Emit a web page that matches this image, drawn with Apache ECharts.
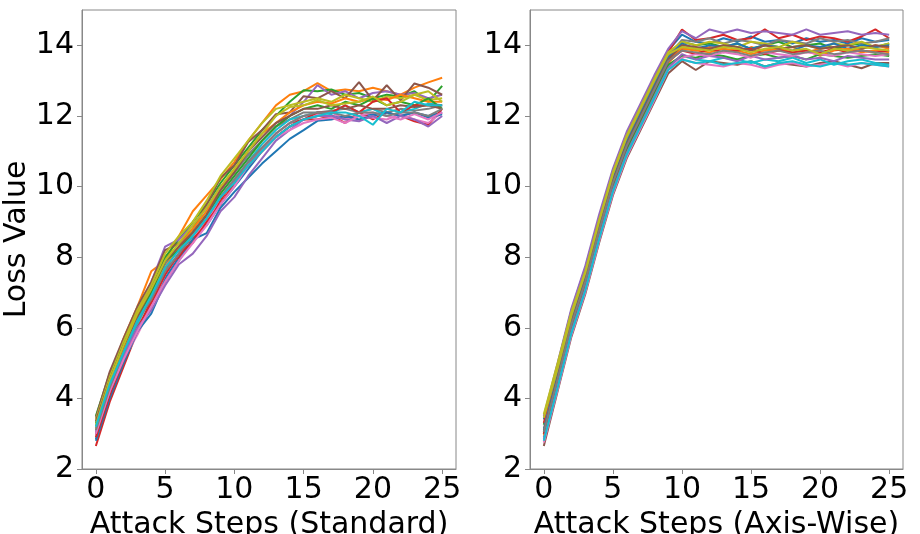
<!DOCTYPE html>
<html><head><meta charset="utf-8">
<script src="https://cdn.jsdelivr.net/npm/echarts@6/dist/echarts.min.js"></script>
<style>html,body{margin:0;padding:0;background:#fff}#c{width:920px;height:534px}</style>
</head><body><div id="c"></div>
<script>
const steps = [0,1,2,3,4,5,6,7,8,9,10,11,12,13,14,15,16,17,18,19,20,21,22,23,24,25];
const xTicks = [0,5,10,15,20,25];
const yTicks = [2,4,6,8,10,12,14];
const xNameLeft = "Attack Steps (Standard)";
const xNameRight = "Attack Steps (Axis-Wise)";
const yName = "Loss Value";
const palette = ['#1f77b4','#ff7f0e','#2ca02c','#d62728','#9467bd','#8c564b','#e377c2','#7f7f7f','#bcbd22','#17becf'];

const std00=[2.85,4.1,5.0,5.9,6.7,7.4,8.0,8.5,8.9,9.5,10.0,10.5,11.0,11.4,11.7,11.9,12.0,12.0,11.95,12.0,12.05,12.1,12.0,12.1,12.0,12.1];
const std01=[3.2,4.6,5.7,6.6,7.6,7.9,8.6,9.3,9.75,10.2,10.7,11.3,11.8,12.3,12.6,12.7,12.93,12.7,12.75,12.7,12.8,12.7,12.6,12.8,12.95,13.08];
const std02=[3.5,4.7,5.6,6.5,7.2,8.0,8.5,9.0,9.5,10.1,10.6,11.1,11.6,12.0,12.4,12.73,12.7,12.75,12.6,12.65,12.5,12.6,12.55,12.7,12.4,12.85];
const std03=[2.65,3.9,4.9,5.9,6.8,7.7,8.0,8.5,9.0,9.6,10.2,10.6,11.1,11.5,11.8,11.9,11.9,12.0,11.8,12.1,11.9,12.1,12.0,11.85,11.75,12.2];
const std04=[3.0,4.3,5.3,6.4,7.3,8.3,8.5,8.9,9.4,10.0,10.4,10.9,11.3,11.7,12.0,12.4,12.87,12.6,12.7,12.5,12.65,12.7,12.6,12.65,12.5,12.6];
const std05=[3.45,4.75,5.7,6.6,7.3,8.2,8.4,8.8,9.5,10.25,10.6,11.26,11.6,12.05,12.1,12.56,12.5,12.7,12.5,12.96,12.44,12.87,12.44,12.92,12.8,12.6];
const std06=[2.95,4.2,5.1,5.8,6.6,7.5,8.1,8.6,9.0,9.7,10.1,10.7,11.1,11.5,11.8,12.0,12.05,12.1,11.9,12.0,11.95,11.9,12.05,11.9,11.8,12.1];
const std07=[3.0,4.3,5.3,6.2,7.0,7.8,8.3,8.8,9.3,9.9,10.4,10.9,11.3,11.7,11.9,12.1,12.1,12.15,12.2,12.1,12.2,12.1,12.2,12.15,12.2,12.3];
const std08=[3.4,4.6,5.6,6.5,7.2,8.1,8.6,9.0,9.6,10.3,10.8,11.3,11.8,12.2,12.3,12.4,12.5,12.4,12.6,12.5,12.4,12.55,12.5,12.6,12.45,12.5];
const std09=[3.15,4.3,5.2,6.1,6.9,7.6,8.1,8.6,9.2,9.7,10.2,10.7,11.2,11.6,11.9,12.0,12.1,12.05,12.3,12.1,12.2,12.0,12.1,12.2,12.35,12.3];
const std10=[2.8,4.0,5.0,5.9,6.4,7.3,7.9,8.5,8.68,9.4,9.85,10.25,10.65,11.0,11.35,11.6,11.86,11.9,12.0,11.9,12.0,12.1,12.0,12.1,11.95,12.05];
const std11=[3.1,4.4,5.4,6.4,7.1,7.7,8.3,8.8,9.3,9.9,10.5,11.0,11.5,11.8,12.1,12.3,12.4,12.35,12.5,12.4,12.5,12.45,12.6,12.5,12.4,12.4];
const std12=[3.3,4.5,5.5,6.3,7.0,7.9,8.2,8.7,9.2,9.8,10.3,10.8,11.3,11.7,12.0,12.2,12.3,12.2,12.4,12.3,12.5,12.3,12.4,12.3,12.5,12.2];
const std13=[2.9,4.1,5.1,6.0,6.7,7.5,8.1,8.4,9.0,9.5,10.1,10.6,11.0,11.4,11.7,11.9,12.1,12.1,12.3,12.1,12.4,12.5,12.1,12.3,12.3,12.3];
const std14=[3.05,4.2,5.2,6.0,6.5,7.2,7.8,8.1,8.6,9.3,9.7,10.3,10.8,11.3,11.6,11.9,12.0,12.0,11.9,11.85,12.0,11.8,12.0,11.9,11.7,12.0];
const std15=[3.35,4.5,5.5,6.3,7.1,7.9,8.3,8.7,9.2,9.9,10.4,11.0,11.4,11.8,12.0,12.2,12.2,12.3,12.2,12.3,12.2,12.2,12.3,12.25,12.3,12.2];
const std16=[3.0,4.2,5.1,5.9,6.6,7.3,7.9,8.4,8.9,9.5,10.0,10.6,11.0,11.4,11.6,11.8,11.9,11.95,11.8,12.0,12.1,12.0,11.9,12.05,11.9,12.1];
const std17=[3.1,4.3,5.3,6.2,6.8,7.6,8.1,8.6,9.1,9.7,10.2,10.7,11.1,11.5,11.8,12.0,12.1,12.1,12.0,12.1,12.1,12.0,12.1,12.1,12.0,12.2];
const std18=[3.25,4.5,5.5,6.4,7.1,7.9,8.4,8.9,9.4,10.0,10.5,11.0,11.5,12.0,12.25,12.3,12.45,12.3,12.35,12.4,12.55,12.3,12.4,12.6,12.7,12.4];
const std19=[3.2,4.4,5.3,6.2,6.9,7.7,8.2,8.6,9.1,9.7,10.1,10.6,11.0,11.4,11.7,11.9,12.0,12.1,12.1,12.0,11.75,12.2,12.1,12.4,12.3,12.3];

const axw00=[3.4,4.95,6.5,7.7,9.1,10.45,11.5,12.3,13.1,13.85,14.3,14.1,14.05,14.2,14.1,14.25,14.1,14.15,14.05,14.2,14.1,14.15,14.05,14.2,14.1,14.15];
const axw01=[3.0,4.6,6.1,7.35,8.8,10.1,11.2,12.0,12.8,13.55,13.95,13.85,13.95,13.9,13.8,13.95,13.85,13.9,13.95,13.8,13.9,13.95,13.85,13.9,14.0,13.9];
const axw02=[3.25,4.75,6.3,7.5,8.95,10.3,11.35,12.15,12.95,13.75,14.1,14.0,14.05,13.95,14.05,13.9,14.0,14.1,13.95,14.0,14.05,13.9,14.0,14.05,13.95,14.05];
const axw03=[3.3,4.8,6.35,7.55,9.0,10.35,11.4,12.2,13.0,13.8,14.45,14.15,14.2,14.3,14.15,14.2,14.45,14.2,14.3,14.15,14.25,14.2,14.1,14.25,14.45,14.2];
const axw04=[3.5,5.0,6.55,7.75,9.2,10.5,11.55,12.35,13.15,13.9,14.4,14.2,14.45,14.35,14.45,14.35,14.4,14.35,14.3,14.45,14.3,14.35,14.4,14.3,14.35,14.3];
const axw05=[2.65,4.2,5.75,6.95,8.4,9.75,10.8,11.6,12.4,13.2,13.55,13.3,13.55,13.5,13.45,13.55,13.4,13.5,13.45,13.4,13.5,13.55,13.45,13.35,13.5,13.5];
const axw06=[2.8,4.3,5.85,7.05,8.5,9.85,10.9,11.7,12.5,13.3,13.6,13.5,13.45,13.4,13.5,13.45,13.35,13.45,13.5,13.4,13.45,13.5,13.4,13.5,13.45,13.4];
const axw07=[3.15,4.7,6.25,7.45,8.9,10.25,11.3,12.1,12.9,13.7,14.15,14.1,14.2,14.05,14.15,14.1,14.0,14.15,14.1,14.05,14.2,14.1,14.15,14.05,14.1,14.2];
const axw08=[3.55,5.0,6.45,7.6,9.05,10.4,11.45,12.25,13.05,13.8,14.1,14.0,14.1,14.05,13.95,14.1,14.05,13.95,14.1,14.0,13.9,14.05,14.0,14.1,13.95,14.05];
const axw09=[2.9,4.4,5.9,7.1,8.55,9.9,11.0,11.8,12.6,13.4,13.7,13.6,13.55,13.65,13.6,13.5,13.6,13.55,13.65,13.5,13.6,13.45,13.55,13.6,13.5,13.45];
const axw10=[3.1,4.65,6.2,7.4,8.85,10.2,11.25,12.05,12.85,13.65,14.05,13.9,14.0,13.95,14.05,13.9,14.0,13.95,13.85,14.0,13.95,14.05,13.9,14.0,13.95,14.0];
const axw11=[2.95,4.5,6.05,7.25,8.7,10.05,11.1,11.9,12.7,13.5,13.9,13.85,13.8,13.9,13.85,13.75,13.85,13.9,13.8,13.85,13.7,13.85,13.9,13.8,13.85,13.8];
const axw12=[3.0,4.45,6.0,7.2,8.65,10.0,11.05,11.85,12.65,13.45,13.7,13.65,13.75,13.7,13.6,13.7,13.75,13.65,13.7,13.6,13.75,13.7,13.65,13.7,13.75,13.7];
const axw13=[3.0,4.55,6.1,7.3,8.75,10.1,11.15,11.95,12.75,13.55,13.85,13.75,13.9,13.8,13.85,13.9,13.75,13.85,13.8,13.85,13.8,13.9,13.8,13.85,13.8,13.85];
const axw14=[2.85,4.35,5.9,7.1,8.55,9.9,10.95,11.75,12.55,13.35,13.75,13.6,13.7,13.65,13.55,13.7,13.6,13.65,13.7,13.6,13.65,13.55,13.7,13.65,13.6,13.6];
const axw15=[3.05,4.6,6.15,7.35,8.8,10.15,11.2,12.0,12.8,13.6,14.0,13.95,13.9,14.0,13.95,13.85,14.0,13.9,13.95,14.0,13.9,13.95,14.0,13.9,14.0,13.95];
const axw16=[2.75,4.25,5.8,7.0,8.45,9.8,10.85,11.65,12.45,13.3,13.65,13.75,13.7,13.8,13.75,13.65,13.8,13.75,13.7,13.8,13.75,13.7,13.8,13.75,13.7,13.75];
const axw17=[3.05,4.55,6.1,7.3,8.75,10.1,11.15,11.95,12.75,13.55,13.85,13.8,13.75,13.85,13.8,13.7,13.8,13.85,13.75,13.8,13.85,13.75,13.8,13.85,13.8,13.75];
const axw18=[3.45,4.85,6.35,7.55,9.0,10.35,11.4,12.2,13.0,13.75,13.95,13.9,13.85,13.95,13.9,13.8,13.9,13.95,13.85,13.9,13.75,13.9,13.85,13.95,13.9,13.85];
const axw19=[2.8,4.3,5.85,7.05,8.5,9.85,10.9,11.7,12.5,13.3,13.6,13.5,13.55,13.45,13.5,13.55,13.4,13.5,13.55,13.45,13.4,13.5,13.45,13.5,13.45,13.4];

const stdLines=[std00,std01,std02,std03,std04,std05,std06,std07,std08,std09,std10,std11,std12,std13,std14,std15,std16,std17,std18,std19];
const axwLines=[axw00,axw01,axw02,axw03,axw04,axw05,axw06,axw07,axw08,axw09,axw10,axw11,axw12,axw13,axw14,axw15,axw16,axw17,axw18,axw19];

const FONT = 'DejaVu Sans';
const AX = '#888888';
function xAxis(idx, name){
  return {type:'value', gridIndex:idx, min:-1, max:26, name:name, nameLocation:'middle', nameGap:40,
    nameTextStyle:{fontFamily:FONT,fontSize:30,color:'#000'},
    axisLine:{show:true,onZero:false,lineStyle:{color:AX,width:1}},
    axisTick:{show:true,length:5,lineStyle:{color:AX},customValues:xTicks},
    axisLabel:{fontFamily:FONT,fontSize:30,color:'#000',margin:6,customValues:xTicks},
    splitLine:{show:false}};
}
function yAxis(idx, withName){
  return {type:'value', gridIndex:idx, min:2, max:15, name:withName?yName:'', nameLocation:'middle', nameGap:50,
    nameTextStyle:{fontFamily:FONT,fontSize:30,color:'#000'},
    axisLine:{show:true,onZero:false,lineStyle:{color:AX,width:1}},
    axisTick:{show:true,length:5,lineStyle:{color:AX},customValues:yTicks},
    axisLabel:{fontFamily:FONT,fontSize:30,color:'#000',margin:8,customValues:yTicks},
    splitLine:{show:false}};
}
const series=[];
stdLines.forEach((arr,i)=>series.push({type:'line',xAxisIndex:0,yAxisIndex:0,showSymbol:false,symbol:'none',
  data:steps.map((s,k)=>[s,arr[k]]),lineStyle:{width:2,color:palette[i%10]},itemStyle:{color:palette[i%10]},z:2}));
axwLines.forEach((arr,i)=>series.push({type:'line',xAxisIndex:1,yAxisIndex:1,showSymbol:false,symbol:'none',
  data:steps.map((s,k)=>[s,arr[k]]),lineStyle:{width:2,color:palette[i%10]},itemStyle:{color:palette[i%10]},z:2}));

const chart = echarts.init(document.getElementById('c'));
chart.setOption({
  animation:false,
  backgroundColor:'#fff',
  grid:[
    {left:82,top:10,width:374,height:459,show:true,borderColor:AX,borderWidth:1,backgroundColor:'transparent',outerBoundsMode:'none',containLabel:false},
    {left:530,top:10,width:373,height:459,show:true,borderColor:AX,borderWidth:1,backgroundColor:'transparent',outerBoundsMode:'none',containLabel:false}
  ],
  xAxis:[xAxis(0,xNameLeft),xAxis(1,xNameRight)],
  yAxis:[yAxis(0,true),yAxis(1,false)],
  series:series
});
</script></body></html>
